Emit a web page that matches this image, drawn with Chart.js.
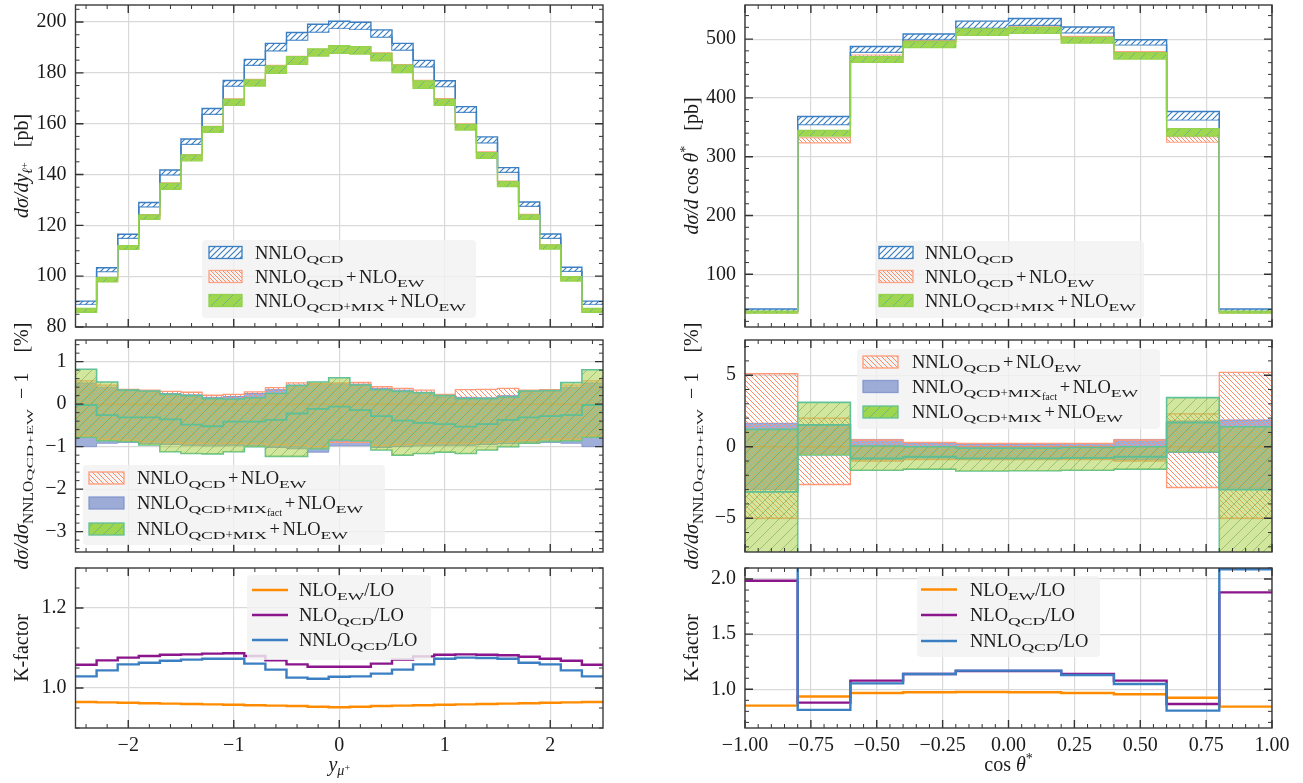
<!DOCTYPE html>
<html><head><meta charset="utf-8">
<script src="https://cdn.jsdelivr.net/npm/chart.js@4.4.1/dist/chart.umd.min.js"></script>
<style>
html,body{margin:0;padding:0;background:#fff;}
#wrap{position:relative;width:1303px;height:783px;overflow:hidden;background:#fff;}
canvas{position:absolute;left:0;top:0;}
</style></head><body><div id="wrap">
<canvas id="c0" width="1303" height="783"></canvas>
<canvas id="c1" width="1303" height="783"></canvas>
<canvas id="c2" width="1303" height="783"></canvas>
<canvas id="c3" width="1303" height="783"></canvas>
<canvas id="c4" width="1303" height="783"></canvas>
<canvas id="c5" width="1303" height="783"></canvas>
</div>
<script>
// ---------------- DATA ----------------
// bin edges (categories)
const yEdges = [-2.5,-2.3,-2.1,-1.9,-1.7,-1.5,-1.3,-1.1,-0.9,-0.7,-0.5,-0.3,-0.1,0.1,0.3,0.5,0.7,0.9,1.1,1.3,1.5,1.7,1.9,2.1,2.3,2.5];
const cEdges = [-1.0,-0.8,-0.6,-0.4,-0.2,0.0,0.2,0.4,0.6,0.8,1.0];

// y_mu+ : cross sections [pb]
const yNNLOHi = [90.2,103.3,116.5,129.0,141.8,154.0,166.0,177.0,185.3,191.6,195.9,199.1,200.3,199.9,196.9,191.6,184.9,176.9,166.7,154.8,142.7,129.2,116.6,103.5,90.2];
const yNNLOLo = [88.9,101.8,114.9,127.3,139.9,151.9,163.7,174.8,183.0,188.7,192.9,196.1,197.5,197.1,194.1,189.0,182.4,174.6,164.5,152.5,140.9,127.5,114.9,101.9,88.9];
const yEWHi   = [87.1,99.3,112.0,124.2,136.7,147.9,159.0,169.8,177.5,183.0,186.5,189.3,190.4,190.3,187.9,183.3,177.1,169.9,160.0,148.9,137.4,124.3,112.3,99.6,87.1];
const yEWLo   = [85.9,98.0,110.8,122.7,134.7,146.0,157.2,167.9,175.6,180.7,184.0,186.9,187.9,187.8,185.3,180.9,174.8,168.1,158.3,147.1,135.8,122.8,110.9,98.3,85.9];
const yMIXHi  = [87.3,99.4,112.0,124.1,136.5,147.7,158.8,169.6,177.2,182.7,186.4,189.4,190.7,190.3,187.7,183.0,176.8,169.6,159.7,148.6,137.2,124.1,112.3,99.8,87.3];
const yMIXLo  = [85.8,97.8,110.6,122.4,134.2,145.4,156.6,167.2,174.8,179.8,183.3,186.6,187.7,187.4,184.7,180.1,173.9,167.2,157.5,146.4,135.2,122.4,110.7,98.1,85.8];

// y_mu+ : ratios [%]
const yRatEWHi   = [0.55,0.45,0.35,0.33,0.30,0.28,0.21,0.23,0.29,0.39,0.50,0.48,0.50,0.51,0.41,0.37,0.33,0.23,0.34,0.35,0.37,0.33,0.34,0.45,0.55];
const yRatEWLo   = [-0.75,-0.82,-0.85,-0.88,-0.90,-0.92,-0.93,-0.92,-0.93,-0.95,-0.97,-1.00,-0.90,-0.90,-0.97,-0.95,-0.93,-0.92,-0.92,-0.90,-0.88,-0.85,-0.82,-0.82,-0.75];
const yRatEWMid  = [0,0,0,0,0,0,0,0,0,0,0,0,0,0,0,0,0,0,0,0,0,0,0,0,0];
const yRatFactHi = [0.50,0.40,0.32,0.30,0.25,0.22,0.16,0.18,0.25,0.34,0.45,0.47,0.48,0.47,0.37,0.33,0.28,0.17,0.16,0.15,0.20,0.30,0.30,0.40,0.50];
const yRatFactLo = [-1.00,-0.92,-0.90,-0.93,-0.95,-0.97,-0.98,-0.97,-0.98,-1.02,-1.05,-1.13,-0.98,-0.98,-1.02,-1.00,-0.98,-0.97,-0.97,-0.95,-0.93,-0.90,-0.90,-0.92,-1.00];
const yRatMIXHi  = [0.82,0.52,0.33,0.31,0.23,0.20,0.13,0.12,0.15,0.25,0.44,0.52,0.62,0.45,0.34,0.30,0.27,0.20,0.13,0.13,0.17,0.31,0.32,0.51,0.81];
const yRatMIXLo  = [-0.78,-0.86,-0.88,-0.96,-1.12,-1.16,-1.17,-1.12,-1.00,-1.23,-1.23,-1.05,-0.84,-0.86,-1.08,-1.20,-1.16,-1.13,-1.16,-1.08,-1.00,-0.92,-0.88,-0.86,-0.78];
const yRatMIXMid = [-0.02,-0.26,-0.31,-0.31,-0.36,-0.48,-0.52,-0.41,-0.41,-0.37,-0.22,-0.11,-0.06,-0.14,-0.28,-0.39,-0.44,-0.47,-0.53,-0.47,-0.37,-0.31,-0.28,-0.26,-0.02];

// y_mu+ : K-factors
const yKEW   = [0.965,0.964,0.963,0.962,0.961,0.960,0.959,0.958,0.957,0.956,0.955,0.953,0.952,0.953,0.955,0.956,0.957,0.958,0.959,0.960,0.961,0.962,0.963,0.964,0.965];
const yKNLO  = [1.058,1.069,1.076,1.080,1.083,1.084,1.086,1.087,1.080,1.069,1.059,1.053,1.053,1.053,1.061,1.071,1.079,1.083,1.084,1.083,1.082,1.078,1.073,1.068,1.058];
const yKNNLO = [1.029,1.044,1.059,1.063,1.068,1.071,1.073,1.073,1.061,1.046,1.026,1.023,1.028,1.029,1.036,1.046,1.059,1.073,1.076,1.075,1.073,1.063,1.059,1.044,1.029];

// cos theta* : cross sections [pb]
const cNNLOHi = [41.0,368.4,487.4,508.6,530.5,535.1,520.7,498.9,377.0,41.0];
const cNNLOLo = [37.0,354.6,477.6,499.4,519.0,523.6,510.9,490.2,362.6,37.0];
const cEWHi   = [37.0,332.2,473.0,497.7,519.0,521.8,504.6,478.7,333.9,37.0];
const cEWLo   = [34.5,323.6,467.0,493.0,513.0,516.0,498.9,473.0,324.7,34.5];
const cMIXHi  = [37.5,344.8,470.1,496.0,517.2,520.1,502.9,477.0,347.7,37.5];
const cMIXLo  = [34.0,335.1,460.3,485.6,506.3,509.8,493.1,466.1,335.1,34.0];

// cos theta* : ratios [%]
const cRatEWHi   = [5.10,2.00,0.47,0.30,0.23,0.23,0.23,0.47,2.30,5.20];
const cRatEWLo   = [-5.00,-2.64,-1.00,-0.90,-0.90,-0.90,-0.90,-1.00,-2.85,-5.00];
const cRatEWMid  = [0,0,0,0,0,0,0,0,0,0];
const cRatFactHi = [1.64,1.50,0.51,0.28,0.20,0.20,0.22,0.51,1.80,1.87];
const cRatFactLo = [-3.00,-0.50,-0.90,-0.80,-0.90,-0.90,-0.85,-0.90,-0.40,-2.90];
const cRatMIXHi  = [1.21,3.10,0.05,0.00,-0.10,-0.10,-0.05,0.00,3.43,1.40];
const cRatMIXLo  = [-7.60,-0.58,-1.64,-1.57,-1.70,-1.68,-1.64,-1.57,-0.35,-7.43];
const cRatMIXMid = [-3.15,1.52,-0.82,-0.70,-0.82,-0.82,-0.78,-0.70,1.68,-3.00];

// cos theta* : K-factors
const cKEW   = [0.852,0.934,0.967,0.973,0.976,0.973,0.967,0.955,0.924,0.843];
const cKNLO  = [1.985,0.879,1.079,1.139,1.166,1.166,1.139,1.079,0.867,1.879];
const cKNNLO = [2.300,0.813,1.054,1.139,1.169,1.169,1.130,1.048,0.807,2.088];

// tick labels
const xTicksL  = [-2,-1,0,1,2];
const xTicksR  = [-1,-0.75,-0.5,-0.25,0,0.25,0.5,0.75,1];
const yTicksTL = [80,100,120,140,160,180,200];
const yTicksML = [-3,-2,-1,0,1];
const yTicksBL = [1.0,1.2];
const yTicksTR = [100,200,300,400,500];
const yTicksMR = [-5,0,5];
const yTicksBR = [1.0,1.5,2.0];

// ---------------- STYLE / HELPERS ----------------
const FF = '"Liberation Serif","DejaVu Serif",serif';
const GRID = '#d9d9d9';
const C_BLUE = '#3b7fc2', C_ORANGE = '#ff8c00', C_PURPLE = '#8b168b';

function pat(size, color, lw, dir, bg) {
  const c = document.createElement('canvas'); c.width = c.height = size;
  const g = c.getContext('2d');
  if (bg) { g.fillStyle = bg; g.fillRect(0,0,size,size); }
  g.strokeStyle = color; g.lineWidth = lw;
  g.beginPath();
  if (dir === '/') {
    g.moveTo(-1,size+1); g.lineTo(size+1,-1);
    g.moveTo(-size/2-1,size/2+1); g.lineTo(size/2+1,-size/2-1);
    g.moveTo(size/2-1,size*1.5+1); g.lineTo(size*1.5+1,size/2-1);
  } else {
    g.moveTo(-1,-1); g.lineTo(size+1,size+1);
    g.moveTo(-size/2-1,size/2-1); g.lineTo(size/2+1,size*1.5+1);
    g.moveTo(size/2-1,-size/2-1); g.lineTo(size*1.5+1,size/2+1);
  }
  g.stroke();
  return document.createElement('canvas').getContext('2d').createPattern(c,'repeat');
}
const ST = {
  nnlo:   {fill: pat(6, C_BLUE, 1.2, '/', 'rgba(255,255,255,0.6)'), edge: C_BLUE, w: 1.4},
  ewTop:  {fill: pat(4, '#ff8a66', 1.0, '\\', null), edge: '#ffa284', w: 1.1},
  mixTop: {fill: pat(11, 'rgba(60,160,170,0.55)', 1.0, '/', 'rgba(155,213,72,0.95)'), edge: '#93d24e', w: 1.3},
  ewMid:  {fill: pat(5, '#ff8a66', 1.0, '\\', null), edge: '#ff9b7a', w: 1.3},
  fact:   {fill: 'rgba(128,148,205,0.75)', edge: 'rgba(128,148,205,0.9)', w: 1.0},
  mixMid: {fill: pat(11, 'rgba(95,160,70,0.5)', 1.0, '/', 'rgba(165,208,60,0.5)'), edge: '#62c197', w: 1.6},
  mixLeg: {fill: pat(11, 'rgba(60,160,170,0.55)', 1.0, '/', 'rgba(155,213,72,0.95)'), edge: '#62c197', w: 1.3}
};

function steps(edges, vals) {
  const out = vals.map((v,i) => ({x: edges[i], y: v}));
  out.push({x: edges[edges.length-1], y: vals[vals.length-1]});
  return out;
}
function band(edges, hi, lo, st, order) {
  return [
    {data: steps(edges, hi), stepped: true, fill: '+1', backgroundColor: st.fill, borderColor: st.edge, borderWidth: st.w, pointRadius: 0, order},
    {data: steps(edges, lo), stepped: true, fill: false, borderColor: st.edge, borderWidth: st.w, pointRadius: 0, order}
  ];
}
function line(edges, vals, color, w, order) {
  return {data: steps(edges, vals), stepped: true, fill: false, borderColor: color, borderWidth: w, pointRadius: 0, order};
}

// rich text
function K(k, b) {
  switch (k) {
    case 'i':   return {size:b, it:true, dy:0, sy:1, pad:0};
    case 'op':  return {size:b, it:false, dy:0, sy:1, pad:b*0.14};
    case 'sc':  return {size:b*0.95, it:false, dy:b*0.22, sy:0.56, pad:0};
    case 'sr':  return {size:b*0.7, it:false, dy:b*0.22, sy:1, pad:0};
    case 'sr2': return {size:b*0.78, it:false, dy:b*0.25, sy:1, pad:0};
    case 'si':  return {size:b*0.7, it:true, dy:b*0.22, sy:1, pad:0};
    case 'ss':  return {size:b*0.55, it:false, dy:b*0.38, sy:1, pad:0};
    case 'ssc': return {size:b*0.85, it:false, dy:b*0.25, sy:0.52, pad:0};
    case 'sp':  return {size:b*0.7, it:false, dy:-b*0.38, sy:1, pad:0};
    case 'ssp': return {size:b*0.5, it:false, dy:-b*0.02, sy:1, pad:0};
    default:    return {size:b, it:false, dy:0, sy:1, pad:0};
  }
}
function fontOf(s) { return (s.it ? 'italic ' : '') + s.size.toFixed(2) + 'px ' + FF; }
function richWidth(ctx, segs, b) {
  let w = 0;
  for (const [t,k] of segs) { const s = K(k,b); ctx.font = fontOf(s); w += ctx.measureText(t).width + 2*s.pad; }
  return w;
}
function drawRich(ctx, segs, b, x, y, align) {
  let cx = align === 'center' ? x - richWidth(ctx, segs, b)/2 : x;
  ctx.textBaseline = 'alphabetic'; ctx.textAlign = 'left';
  for (const [t,k] of segs) {
    const s = K(k,b); ctx.font = fontOf(s);
    cx += s.pad;
    ctx.save(); ctx.translate(cx, y + s.dy); ctx.scale(1, s.sy); ctx.fillText(t, 0, 0); ctx.restore();
    cx += ctx.measureText(t).width + s.pad;
  }
}

const SEG = {
  nnlo:    [['NNLO','r'],['QCD','sc']],
  nnloEW:  [['NNLO','r'],['QCD','sc'],['+','op'],['NLO','r'],['EW','sc']],
  mix:     [['NNLO','r'],['QCD','sc'],['+','sr'],['MIX','sc'],['+','op'],['NLO','r'],['EW','sc']],
  fact:    [['NNLO','r'],['QCD','sc'],['+','sr'],['MIX','sc'],['fact','ss'],['+','op'],['NLO','r'],['EW','sc']],
  kEW:     [['NLO','r'],['EW','sc'],['/LO','r']],
  kNLO:    [['NLO','r'],['QCD','sc'],['/LO','r']],
  kNNLO:   [['NNLO','r'],['QCD','sc'],['/LO','r']],
  tY:      [['dσ/dy','i'],['ℓ','si'],['+','ssp'],['   [pb]','r']],
  tC:      [['dσ/d','i'],[' cos ','r'],['θ','i'],['*','sp'],['   [pb]','r']],
  tR:      [['dσ/dσ','i'],['NNLO','sr2'],['QCD+EW','ssc'],['  − 1 ','r'],['   [%]','r']],
  tK:      [['K-factor','r']],
  xY:      [['y','i'],['μ','si'],['+','ssp']],
  xC:      [['cos ','r'],['θ','i'],['*','sp']]
};

const deco = {
  id: 'deco',
  afterDraw(chart) {
    const o = chart.options.plugins.deco; if (!o) return;
    const ctx = chart.ctx, a = chart.chartArea, xs = chart.scales.x, ys = chart.scales.y;
    ctx.save();
    const minors = (sc, step, majors) => {
      const r = []; const k0 = Math.ceil(sc.min/step - 1e-6), k1 = Math.floor(sc.max/step + 1e-6);
      for (let k = k0; k <= k1; k++) { const v = k*step; if (!majors.some(m => Math.abs(m - v) < step*1e-3)) r.push(v); }
      return r;
    };
    const xMaj = xs.ticks.map(t => t.value), yMaj = ys.ticks.map(t => t.value);
    ctx.strokeStyle = '#333';
    const tx = (vals, len, lw) => { ctx.lineWidth = lw; ctx.beginPath();
      for (const v of vals) { const p = xs.getPixelForValue(v); ctx.moveTo(p, a.bottom); ctx.lineTo(p, a.bottom - len); ctx.moveTo(p, a.top); ctx.lineTo(p, a.top + len); }
      ctx.stroke(); };
    const ty = (vals, len, lw) => { ctx.lineWidth = lw; ctx.beginPath();
      for (const v of vals) { const p = ys.getPixelForValue(v); ctx.moveTo(a.left, p); ctx.lineTo(a.left + len, p); ctx.moveTo(a.right, p); ctx.lineTo(a.right - len, p); }
      ctx.stroke(); };
    tx(xMaj, 8, 1.4); tx(minors(xs, o.xMinor, xMaj), 4, 1.0);
    ty(yMaj, 8, 1.4); ty(minors(ys, o.yMinor, yMaj), 4, 1.0);
    ctx.lineWidth = 1.4; ctx.strokeStyle = '#3a3a3a';
    ctx.strokeRect(a.left, a.top, a.right - a.left, a.bottom - a.top);
    if (o.legend) {
      const L = o.legend, [x0,y0,x1,y1] = L.box;
      ctx.fillStyle = 'rgba(242,242,242,0.82)';
      ctx.beginPath(); ctx.roundRect(x0, y0, x1-x0, y1-y0, 4); ctx.fill();
      for (const r of L.rows) {
        if (r.type === 'patch') {
          const hy = r.y - 6, hh = 12;
          ctx.fillStyle = r.st.fill; ctx.fillRect(L.hx[0], hy, L.hx[1]-L.hx[0], hh);
          ctx.strokeStyle = r.st.edge; ctx.lineWidth = 1.3; ctx.strokeRect(L.hx[0], hy, L.hx[1]-L.hx[0], hh);
        } else {
          ctx.strokeStyle = r.color; ctx.lineWidth = 2.4; ctx.beginPath(); ctx.moveTo(L.hx[0], r.y); ctx.lineTo(L.hx[1], r.y); ctx.stroke();
        }
        ctx.fillStyle = '#1a1a1a';
        drawRich(ctx, r.segs, 18.5, L.tx, r.y + 6, 'left');
      }
    }
    ctx.fillStyle = '#1a1a1a';
    for (const t of (o.titles || [])) {
      if (t.rot) { ctx.save(); ctx.translate(t.x, t.y); ctx.rotate(-Math.PI/2); drawRich(ctx, t.segs, 20, 0, 0, 'center'); ctx.restore(); }
      else drawRich(ctx, t.segs, 20, t.x, t.y, 'center');
    }
    ctx.restore();
  }
};

const fInt = v => String(v).replace('-', '−');
const f1 = v => v.toFixed(1).replace('-', '−');
const f2 = v => v.toFixed(2).replace('-', '−');

function panel(id, P) {
  const XH = P.showX ? 40 : 0;
  const pad = {left: P.area.l - 60, top: P.area.t, right: 1303 - P.area.r, bottom: 783 - P.area.b - XH};
  return new Chart(document.getElementById(id), {
    type: 'line',
    data: {datasets: P.datasets},
    options: {
      responsive: false, maintainAspectRatio: false, animation: false, devicePixelRatio: 1, events: [],
      layout: {padding: pad, autoPadding: false},
      plugins: {legend: {display: false}, tooltip: {enabled: false}, title: {display: false}, deco: P.deco},
      elements: {point: {radius: 0}, line: {tension: 0}},
      scales: {
        x: {type: 'linear', min: P.x.min, max: P.x.max,
            afterBuildTicks: s => { s.ticks = P.x.ticks.map(v => ({value: v})); },
            afterFit: s => { s.height = XH; s.paddingLeft = 0; s.paddingRight = 0; },
            grid: {color: GRID, lineWidth: 1.2, drawTicks: false}, border: {display: false},
            ticks: {display: P.showX, autoSkip: false, maxRotation: 0, padding: 6, color: '#1a1a1a',
                    font: {family: FF, size: 20}, callback: v => P.x.fmt(v)}},
        y: {type: 'linear', min: P.y.min, max: P.y.max,
            afterBuildTicks: s => { s.ticks = P.y.ticks.map(v => ({value: v})); },
            afterFit: s => { s.width = 60; s.paddingTop = 0; s.paddingBottom = 0; },
            grid: {color: GRID, lineWidth: 1.2, drawTicks: false}, border: {display: false},
            ticks: {autoSkip: false, padding: 9, color: '#1a1a1a', font: {family: FF, size: 20}, callback: v => P.y.fmt(v)}}
      }
    },
    plugins: [deco]
  });
}

const AL = {l: 75.5, r: 603}, AR = {l: 745, r: 1272};
const RT = {t: 5, b: 327}, RM = {t: 340, b: 552}, RB = {t: 568, b: 728};

panel('c0', {
  area: {...AL, ...RT}, showX: false,
  x: {min: -2.5, max: 2.5, ticks: xTicksL, fmt: fInt},
  y: {min: 80, max: 206.7, ticks: yTicksTL, fmt: fInt},
  datasets: [
    ...band(yEdges, yMIXHi, yMIXLo, ST.mixTop, 1),
    ...band(yEdges, yNNLOHi, yNNLOLo, ST.nnlo, 2),
    ...band(yEdges, yEWHi, yEWLo, ST.ewTop, 3)
  ],
  deco: {xMinor: 0.2, yMinor: 5,
    legend: {box: [202, 240, 476, 318], hx: [209, 242], tx: 255, rows: [
      {y: 252.5, type: 'patch', st: ST.nnlo, segs: SEG.nnlo},
      {y: 276.5, type: 'patch', st: ST.ewTop, segs: SEG.nnloEW},
      {y: 300.5, type: 'patch', st: ST.mixTop, segs: SEG.mix}]},
    titles: [{segs: SEG.tY, x: 28, y: 166, rot: true}]}
});

panel('c1', {
  area: {...AL, ...RM}, showX: false,
  x: {min: -2.5, max: 2.5, ticks: xTicksL, fmt: fInt},
  y: {min: -3.48, max: 1.51, ticks: yTicksML, fmt: fInt},
  datasets: [
    line(yEdges, yRatMIXMid, '#5cbf95', 1.8, 0),
    ...band(yEdges, yRatMIXHi, yRatMIXLo, ST.mixMid, 1),
    line(yEdges, yRatEWMid, '#e0906a', 1.2, 2),
    ...band(yEdges, yRatEWHi, yRatEWLo, ST.ewMid, 3),
    ...band(yEdges, yRatFactHi, yRatFactLo, ST.fact, 4)
  ],
  deco: {xMinor: 0.2, yMinor: 0.2,
    legend: {box: [83, 465, 385, 545], hx: [89, 124], tx: 137, rows: [
      {y: 478, type: 'patch', st: ST.ewMid, segs: SEG.nnloEW},
      {y: 503, type: 'patch', st: ST.fact, segs: SEG.fact},
      {y: 529, type: 'patch', st: ST.mixLeg, segs: SEG.mix}]},
    titles: [{segs: SEG.tR, x: 28, y: 446, rot: true}]}
});

panel('c2', {
  area: {...AL, ...RB}, showX: true,
  x: {min: -2.5, max: 2.5, ticks: xTicksL, fmt: fInt},
  y: {min: 0.9, max: 1.3, ticks: yTicksBL, fmt: f1},
  datasets: [
    line(yEdges, yKNNLO, C_BLUE, 2.4, 0),
    line(yEdges, yKNLO, C_PURPLE, 2.4, 1),
    line(yEdges, yKEW, C_ORANGE, 2.4, 2)
  ],
  deco: {xMinor: 0.2, yMinor: 0.05,
    legend: {box: [247, 575, 431, 660], hx: [252, 288], tx: 299, rows: [
      {y: 590, type: 'line', color: C_ORANGE, segs: SEG.kEW},
      {y: 615, type: 'line', color: C_PURPLE, segs: SEG.kNLO},
      {y: 640, type: 'line', color: C_BLUE, segs: SEG.kNNLO}]},
    titles: [{segs: SEG.tK, x: 28, y: 648, rot: true}, {segs: SEG.xY, x: 339.25, y: 771, rot: false}]}
});

panel('c3', {
  area: {...AR, ...RT}, showX: false,
  x: {min: -1, max: 1, ticks: xTicksR, fmt: f2},
  y: {min: 10.4, max: 558, ticks: yTicksTR, fmt: fInt},
  datasets: [
    ...band(cEdges, cMIXHi, cMIXLo, ST.mixTop, 1),
    ...band(cEdges, cNNLOHi, cNNLOLo, ST.nnlo, 2),
    ...band(cEdges, cEWHi, cEWLo, ST.ewTop, 3)
  ],
  deco: {xMinor: 0.05, yMinor: 20,
    legend: {box: [875, 241, 1144, 318], hx: [879, 913], tx: 925, rows: [
      {y: 252.5, type: 'patch', st: ST.nnlo, segs: SEG.nnlo},
      {y: 276.5, type: 'patch', st: ST.ewTop, segs: SEG.nnloEW},
      {y: 300.5, type: 'patch', st: ST.mixTop, segs: SEG.mix}]},
    titles: [{segs: SEG.tC, x: 698, y: 166, rot: true}]}
});

panel('c4', {
  area: {...AR, ...RM}, showX: false,
  x: {min: -1, max: 1, ticks: xTicksR, fmt: f2},
  y: {min: -7.36, max: 7.46, ticks: yTicksMR, fmt: fInt},
  datasets: [
    line(cEdges, cRatMIXMid, '#5cbf95', 1.8, 0),
    ...band(cEdges, cRatMIXHi, cRatMIXLo, ST.mixMid, 1),
    line(cEdges, cRatEWMid, '#e0906a', 1.2, 2),
    ...band(cEdges, cRatEWHi, cRatEWLo, ST.ewMid, 3),
    ...band(cEdges, cRatFactHi, cRatFactLo, ST.fact, 4)
  ],
  deco: {xMinor: 0.05, yMinor: 1,
    legend: {box: [857, 349, 1160, 429], hx: [863, 898], tx: 912, rows: [
      {y: 362, type: 'patch', st: ST.ewMid, segs: SEG.nnloEW},
      {y: 386.5, type: 'patch', st: ST.fact, segs: SEG.fact},
      {y: 412, type: 'patch', st: ST.mixLeg, segs: SEG.mix}]},
    titles: [{segs: SEG.tR, x: 698, y: 446, rot: true}]}
});

panel('c5', {
  area: {...AR, ...RB}, showX: true,
  x: {min: -1, max: 1, ticks: xTicksR, fmt: f2},
  y: {min: 0.649, max: 2.1, ticks: yTicksBR, fmt: f1},
  datasets: [
    line(cEdges, cKNNLO, C_BLUE, 2.4, 0),
    line(cEdges, cKNLO, C_PURPLE, 2.4, 1),
    line(cEdges, cKEW, C_ORANGE, 2.4, 2)
  ],
  deco: {xMinor: 0.05, yMinor: 0.1,
    legend: {box: [917, 576, 1100, 657], hx: [921, 957], tx: 970, rows: [
      {y: 589.5, type: 'line', color: C_ORANGE, segs: SEG.kEW},
      {y: 615, type: 'line', color: C_PURPLE, segs: SEG.kNLO},
      {y: 641, type: 'line', color: C_BLUE, segs: SEG.kNNLO}]},
    titles: [{segs: SEG.tK, x: 698, y: 648, rot: true}, {segs: SEG.xC, x: 1008.5, y: 771, rot: false}]}
});
</script>
</body></html>
